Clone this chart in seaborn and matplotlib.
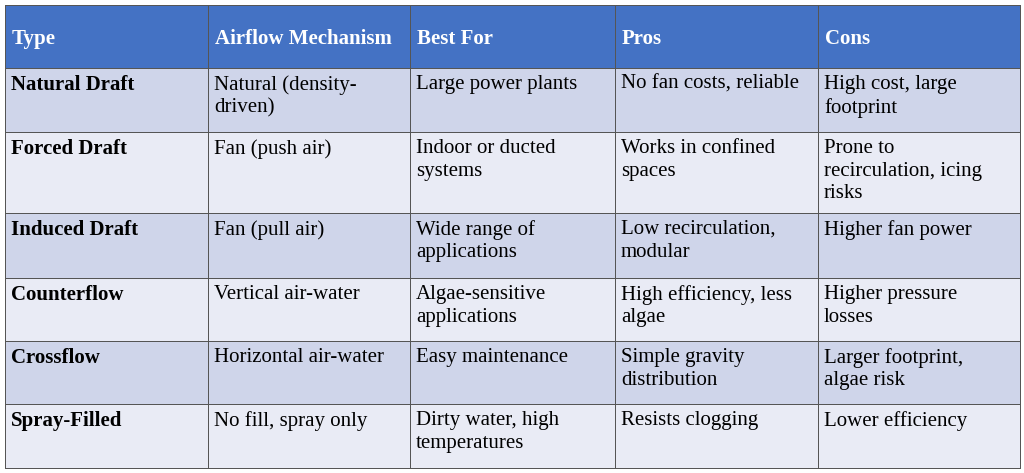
import numpy as np
import matplotlib
matplotlib.use("Agg")
import matplotlib.pyplot as plt
import seaborn as sns

sns.set_theme(style="white")

headers = ["Type", "Airflow Mechanism", "Best For", "Pros", "Cons"]
types = ["Natural Draft", "Forced Draft", "Induced Draft", "Counterflow", "Crossflow", "Spray-Filled"]
airflow = ["Natural (density-\ndriven)", "Fan (push air)", "Fan (pull air)", "Vertical air-water",
           "Horizontal air-water", "No fill, spray only"]
best_for = ["Large power plants", "Indoor or ducted\nsystems", "Wide range of\napplications",
            "Algae-sensitive\napplications", "Easy maintenance", "Dirty water, high\ntemperatures"]
pros = ["No fan costs, reliable", "Works in confined\nspaces", "Low recirculation,\nmodular",
        "High efficiency, less\nalgae", "Simple gravity\ndistribution", "Resists clogging"]
cons = ["High cost, large\nfootprint", "Prone to\nrecirculation, icing\nrisks", "Higher fan power",
        "Higher pressure\nlosses", "Larger footprint,\nalgae risk", "Lower efficiency"]

col_edges = [5, 208, 410, 615, 818, 1020]
row_edges = [5, 68, 132, 213, 278, 341, 404, 468]

fig = plt.figure(figsize=(10.24, 4.73), dpi=100)
ax = fig.add_axes([0, 0, 1, 1])
ax.set_xlim(0, 1024)
ax.set_ylim(473, 0)
ax.axis("off")

nrows = len(row_edges) - 1
ncols = len(col_edges) - 1
shade = np.array([[0 if r == 0 else (1 if r % 2 == 1 else 2) for c in range(ncols)] for r in range(nrows)])
cmap = matplotlib.colors.ListedColormap(["#4472C4", "#CFD5EA", "#E9EBF5"])
ax.pcolormesh(col_edges, row_edges, shade, cmap=cmap, vmin=-0.5, vmax=2.5,
              edgecolor="#555555", linewidth=0.5)

font = "Liberation Serif"
for c, h in enumerate(headers):
    ax.text(col_edges[c] + 7, row_edges[0] + 24, h, color="white", fontsize=15,
            fontweight="bold", family=font, va="top", ha="left")

columns = [types, airflow, best_for, pros, cons]
for r in range(len(types)):
    for c, col in enumerate(columns):
        ax.text(col_edges[c] + 6, row_edges[r + 1] + 7, col[r], color="black", fontsize=15,
                fontweight="bold" if c == 0 else "normal", family=font,
                va="top", ha="left", linespacing=1.25)

fig.savefig("out.png", dpi=100)
